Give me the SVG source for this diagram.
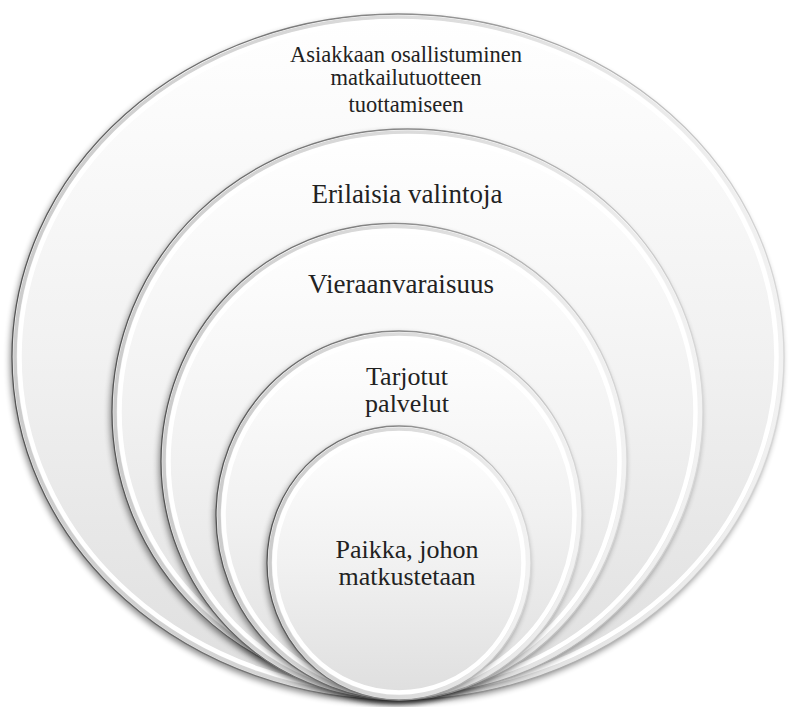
<svg xmlns="http://www.w3.org/2000/svg" width="793" height="707" viewBox="0 0 793 707">
<defs>
  <linearGradient id="fill" x1="0" y1="0" x2="0" y2="1">
    <stop offset="0" stop-color="#ffffff"/>
    <stop offset="0.5" stop-color="#f1f1f1"/>
    <stop offset="1" stop-color="#dedede"/>
  </linearGradient>
  <linearGradient id="edge" x1="0" y1="0" x2="1" y2="0">
    <stop offset="0" stop-color="#555555"/>
    <stop offset="0.5" stop-color="#8a8a8a"/>
    <stop offset="1" stop-color="#d8d8d8"/>
  </linearGradient>
  <linearGradient id="band" x1="0" y1="0" x2="1" y2="0">
    <stop offset="0" stop-color="#cccccc"/>
    <stop offset="0.6" stop-color="#dedede"/>
    <stop offset="1" stop-color="#f2f2f2"/>
  </linearGradient>
  <filter id="shadow" x="-10%" y="-10%" width="120%" height="120%">
    <feGaussianBlur stdDeviation="3"/>
  </filter>
  <style>
    .sh { fill: #000; opacity: 0.45; filter: url(#shadow); }
    .base { fill: url(#fill); stroke: url(#edge); stroke-width: 1.3; }
    .band { fill: none; stroke: url(#band); stroke-width: 3.5; }
    .hi { fill: none; stroke: #ffffff; stroke-width: 4.5; }
    .lbl { font-family: "Liberation Serif", "Times New Roman", serif; fill: #222; text-anchor: middle; }
  </style>
</defs>
<rect width="793" height="707" fill="#ffffff"/>

<g id="ring1">
  <ellipse class="sh" cx="396" cy="360" rx="386" ry="343"/>
  <ellipse class="base" cx="398" cy="357" rx="386" ry="343"/>
  <ellipse class="band" cx="398" cy="357" rx="383" ry="340"/>
  <ellipse class="hi" cx="398" cy="357" rx="378.5" ry="335.5"/>
  <text class="lbl" font-size="22.5" x="406" y="62">Asiakkaan osallistuminen</text>
  <text class="lbl" font-size="22.5" x="406" y="85">matkailutuotteen</text>
  <text class="lbl" font-size="22.5" x="406" y="112">tuottamiseen</text>
</g>

<g id="ring2">
  <ellipse class="sh" cx="405.5" cy="415" rx="295.5" ry="283"/>
  <ellipse class="base" cx="407.5" cy="412" rx="295.5" ry="283"/>
  <ellipse class="band" cx="407.5" cy="412" rx="292.5" ry="280"/>
  <ellipse class="hi" cx="407.5" cy="412" rx="288" ry="275.5"/>
  <text class="lbl" font-size="27" x="407" y="203">Erilaisia valintoja</text>
</g>

<g id="ring3">
  <ellipse class="sh" cx="392" cy="464.5" rx="233" ry="238"/>
  <ellipse class="base" cx="394" cy="461.5" rx="233" ry="238"/>
  <ellipse class="band" cx="394" cy="461.5" rx="230" ry="235"/>
  <ellipse class="hi" cx="394" cy="461.5" rx="225.5" ry="230.5"/>
  <text class="lbl" font-size="27" x="401" y="293">Vieraanvaraisuus</text>
</g>

<g id="ring4">
  <ellipse class="sh" cx="397" cy="518.5" rx="183" ry="184.5"/>
  <ellipse class="base" cx="399" cy="515.5" rx="183" ry="184.5"/>
  <ellipse class="band" cx="399" cy="515.5" rx="180" ry="181.5"/>
  <ellipse class="hi" cx="399" cy="515.5" rx="175.5" ry="177"/>
  <text class="lbl" font-size="26" x="407" y="385">Tarjotut</text>
  <text class="lbl" font-size="26" x="407" y="412">palvelut</text>
</g>

<g id="ring5">
  <ellipse class="sh" cx="397" cy="566" rx="132" ry="137"/>
  <ellipse class="base" cx="399" cy="563" rx="132" ry="137"/>
  <ellipse class="band" cx="399" cy="563" rx="129" ry="134"/>
  <ellipse class="hi" cx="399" cy="563" rx="124.5" ry="129.5"/>
  <text class="lbl" font-size="26" x="407" y="558">Paikka, johon</text>
  <text class="lbl" font-size="26" x="407" y="585">matkustetaan</text>
</g>

<g id="connectors"/>
</svg>
